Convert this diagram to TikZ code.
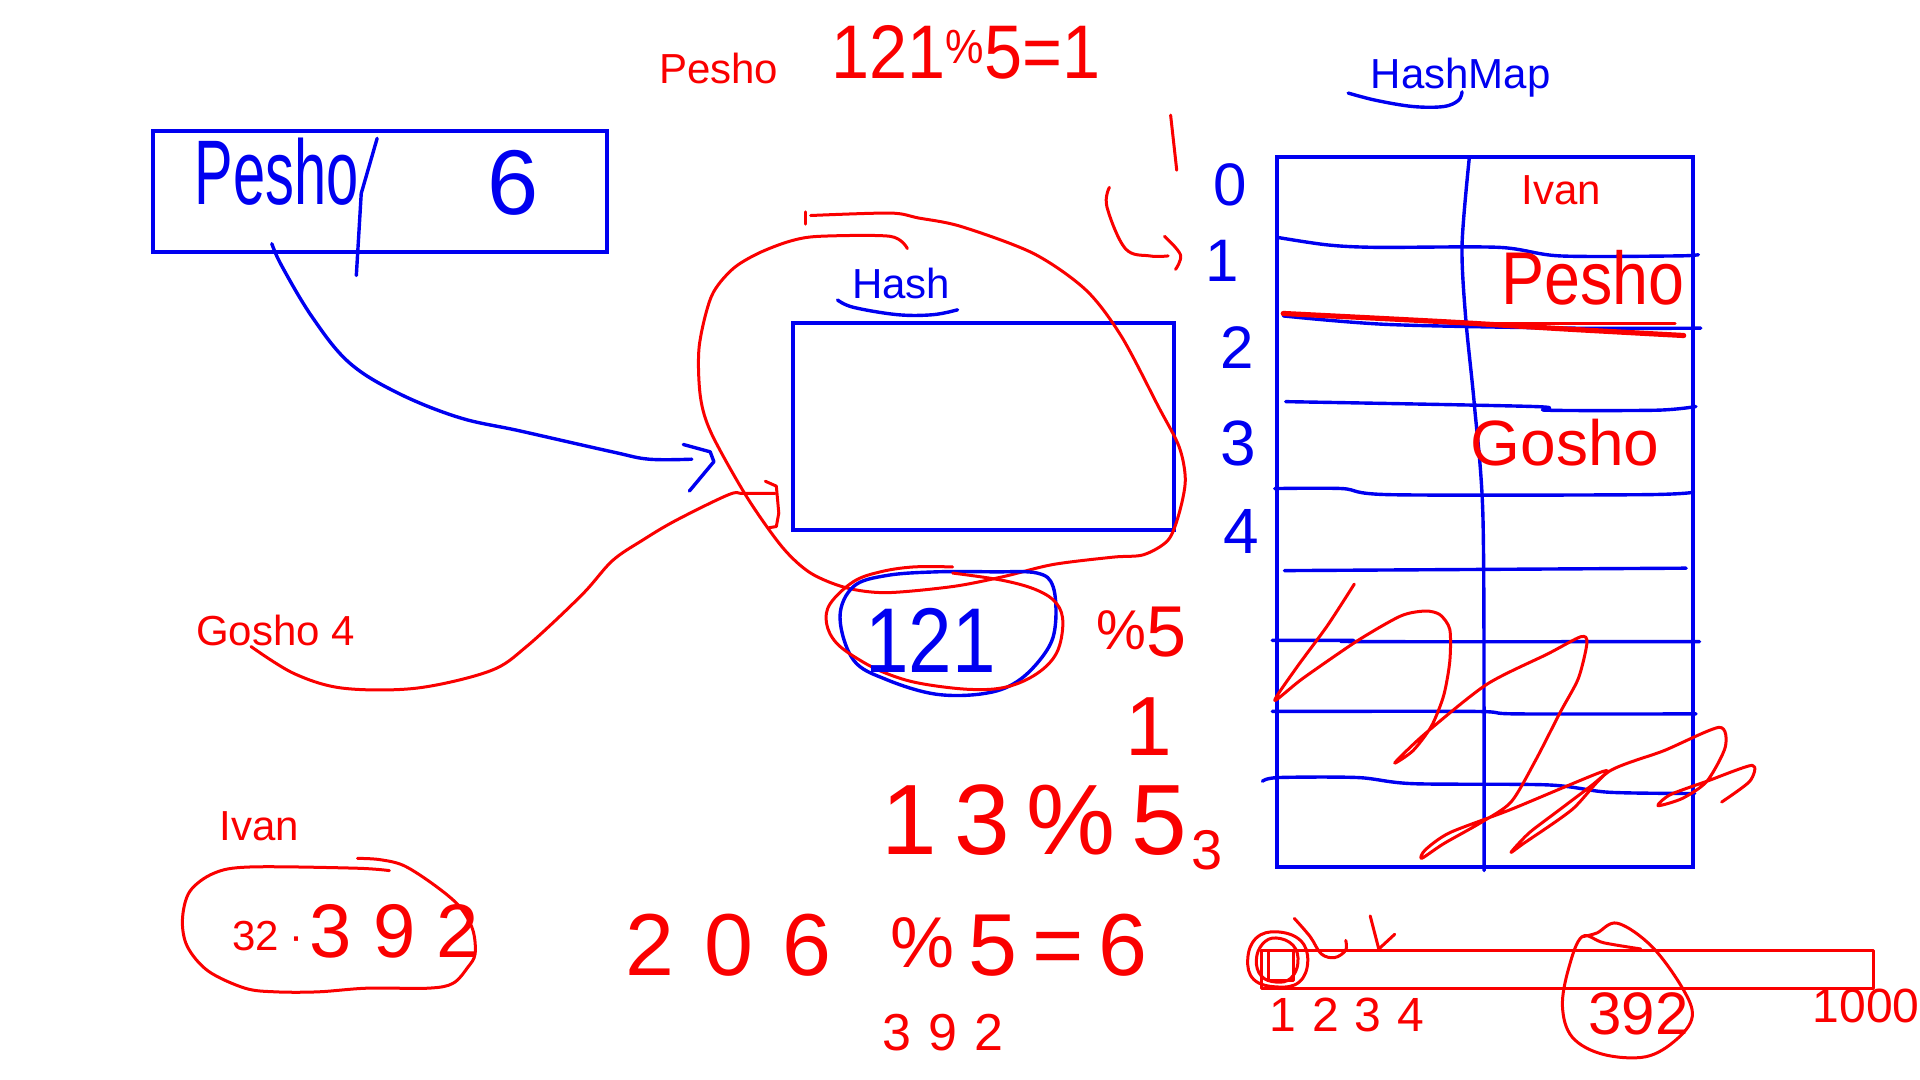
\documentclass[tikz,border=0pt]{standalone}
\usepackage{fontspec}
\setmainfont{Liberation Sans}
\IfFontExistsTF{FiraSans-Light.otf}{\newfontfamily\hwf{FiraSans-Light.otf}}{\newfontfamily\hwf{Liberation Sans}}
\definecolor{pr}{RGB}{250,0,0}
\definecolor{pb}{RGB}{0,0,240}
\newcommand\fs[1]{\fontsize{#1}{#1}\selectfont}
\begin{document}
\begin{tikzpicture}[x=0.61224pt,y=-0.61224pt,
  bl/.style={draw=pb,line width=1.7pt,line cap=round,line join=round},
  blr/.style={draw=pb,line width=2pt},
  rd/.style={draw=pr,line width=1.5pt,line cap=round,line join=round},
  tr/.style={text=pr,inner sep=0pt,anchor=base,font=\fs{21}},
  tb/.style={text=pb,inner sep=0pt,anchor=base,font=\fs{21}},
  hr/.style={text=pr,inner sep=0pt,anchor=base},
  hb/.style={text=pb,inner sep=0pt,anchor=base}]
\useasboundingbox (0,0) rectangle (1568,882);
\fill[white] (0,0) rectangle (1568,882);

% ---------- top-left record box ----------
\draw[blr] (125,107) rectangle (496,206);
\node[hb,font=\hwf\fs{34}] (hwpesho) at (226,167) {\scalebox{0.85}[1.35]{Pesho}};
\draw[bl] (308,113) -- (295,158) -- (291,225);
\node[hb,font=\hwf\fs{46}] (hwsix) at (419,175) {6};

% arrow to hash
\draw[bl] plot[smooth,tension=0.6] coordinates {(222,199) (230,217) (255,259) (285,296) (325,321) (375,341) (425,352) (500,369) (530,375) (565,375)};
\draw[bl] (558,363) -- (580,369) -- (583,377) -- (563,401);

% ---------- top texts ----------
\node[tr] (tpesho) at (587,68) {Pesho};
\node[hr,font=\hwf\fs{38}] (calc1) at (789,64) {\scalebox{0.9}[1]{121\raisebox{0.2em}{\fs{24}\%}5=1}};
\node[tb] (thashmap) at (1193,72) {HashMap};
\draw[bl] plot[smooth,tension=0.6] coordinates {(1101,76) (1124,82) (1154,87) (1179,87) (1191,82) (1194,75)};

% ---------- Hash box ----------
\node[tb] (thash) at (736,244) {Hash};
\draw[bl] plot[smooth,tension=0.6] coordinates {(684,245) (697,251) (733,257) (762,257) (782,253)};
\draw[blr] (648,264) rectangle (959,433);

% big red loop
\draw[rd] (658,173) -- (658,183);
\draw[rd] plot[smooth,tension=0.5] coordinates {(662,176) (727,174) (750,178) (785,185) (844,207) (887,237) (916,275) (946,332) (963,365) (968,392) (963,419) (954,441) (934,453) (909,455) (860,461) (819,471) (778,479) (724,484) (691,480) (662,468) (639,447) (610,406) (581,354) (572,324) (571,283) (581,242) (598,220) (619,207) (645,197) (669,193) (727,193) (741,203)};

% Gosho curve
\node[tr] (tgosho) at (225,527) {Gosho 4};
\draw[rd] plot[smooth,tension=0.55] coordinates {(205,528) (240,550) (280,562) (340,562) (400,548) (430,528) (475,486) (500,458) (525,441) (552,425) (595,404) (607,403) (633,403)};
\draw[rd] (625,393) -- (634,397) -- (636,419) -- (634,430) -- (628,431);

% 121 ellipses
\draw[bl] plot[smooth cycle,tension=0.6] coordinates {(686,504) (697,479) (724,470) (765,467) (811,467) (847,468) (860,479) (862,509) (855,531) (833,555) (806,566) (765,567) (724,555) (697,539)};
\draw[rd] plot[smooth,tension=0.6] coordinates {(778,463) (746,463) (719,467) (697,475) (678,493) (675,509) (683,525) (702,539) (724,550) (751,558) (792,563) (822,561) (847,550) (863,533) (868,509) (863,493) (847,482) (819,474) (778,468)};
\node[hb,font=\hwf\fs{46}] (n121) at (760,549) {\scalebox{0.85}[1]{121}};
\node[hr,font=\hwf\fs{36}] (mod5a) at (932,536) {\raisebox{0.1em}{\fs{28}\%}5};
\node[hr,font=\hwf\fs{42}] (res1) at (938,617) {1};
\node[hr,font=\hwf\fs{50}] (c13) at (845,698) {1\,3\,\%\,5};
\node[hr,font=\hwf\fs{28}] (res3) at (986,710) {3};

% ---------- HashMap table ----------
\draw[blr] (1043,128) rectangle (1383,708);
\draw[bl] plot[smooth,tension=0.5] coordinates {(1200,128) (1194,200) (1197,260) (1204,330) (1211,420) (1212,600) (1212,711)};
\draw[bl] plot[smooth,tension=0.5] coordinates {(1044,194) (1084,200) (1124,202) (1224,202) (1274,209) (1369,209) (1387,208)};
\draw[bl] plot[smooth,tension=0.5] coordinates {(1048,258) (1134,265) (1284,268) (1389,268)};
\draw[bl] plot[smooth,tension=0.5] coordinates {(1050,328) (1253,332) (1263,335) (1353,335) (1385,332)};
\draw[bl] plot[smooth,tension=0.5] coordinates {(1041,399) (1096,399) (1136,404) (1341,404) (1383,402)};
\draw[bl] (1049,466) -- (1377,464);
\draw[bl] plot[smooth,tension=0.5] coordinates {(1039,523) (1104,523) (1112,524) (1388,524)};
\draw[bl] plot[smooth,tension=0.5] coordinates {(1039,581) (1204,581) (1238,583) (1385,583)};
\draw[bl] plot[smooth,tension=0.5] coordinates {(1031,638) (1044,635) (1109,635) (1154,640) (1264,641) (1314,647) (1384,648)};
% red line over row boundary
\draw[rd,line width=2.6pt] plot[smooth,tension=0.5] coordinates {(1048,256) (1184,263) (1284,269) (1375,274)};
\draw[rd] (1184,264) -- (1368,264);

\node[hb,font=\hwf\fs{30}] (i0) at (1005,168) {0};
\node[hb,font=\hwf\fs{30}] (i1) at (998,230) {1};
\node[hb,font=\hwf\fs{30}] (i2) at (1010,301) {2};
\node[hb,font=\hwf\fs{32}] (i3) at (1011,380) {3};
\node[hb,font=\hwf\fs{32}] (i4) at (1014,452) {4};

\node[tr] (tivan) at (1275,167) {Ivan};
\node[hr,font=\hwf\fs{34}] (hpesho) at (1301,249) {\scalebox{0.95}[1.1]{Pesho}};
\node[hr,font=\hwf\fs{32}] (hgosho) at (1278,380) {Gosho};

% red arrow at 1
\draw[rd] (956,94) -- (961,139);
\draw[rd] plot[smooth,tension=0.6] coordinates {(906,153) (904,169) (919,203) (939,209) (954,209)};
\draw[rd] plot[smooth,tension=0.6] coordinates {(951,193) (964,208) (960,220)};

% scribbles
\draw[rd] plot[smooth,tension=0.45] coordinates {(1106,477) (1084,511) (1059,545) (1041,572) (1064,554) (1109,523) (1144,503) (1164,499) (1176,502) (1184,514) (1184,540) (1179,568) (1169,593) (1154,613) (1139,623) (1164,599) (1214,559) (1264,534) (1291,520) (1296,525) (1289,554) (1274,582) (1254,621) (1234,655) (1209,672) (1179,689) (1161,701) (1164,694) (1184,680) (1234,661) (1309,630) (1304,638) (1274,661) (1249,680) (1234,696) (1244,689) (1284,661) (1314,630) (1359,613) (1404,594) (1409,610) (1394,638) (1374,652) (1354,658) (1364,649) (1394,638) (1431,625) (1429,638) (1406,655)};

% ---------- bottom left ----------
\node[tr] (tivan2) at (212,686) {Ivan};
\draw[rd] plot[smooth,tension=0.55] coordinates {(318,711) (290,709) (205,708) (175,713) (155,728) (149,751) (153,773) (170,793) (200,807) (225,810) (260,810) (300,807) (350,807) (370,803) (382,790) (388,779) (386,759) (375,740) (355,723) (330,707) (310,702) (292,701)};
\node[tr] (t32) at (209,776) {32};
\node[hr,font=\fs{21}] (tdot) at (242,776) {·};
\node[hr,font=\hwf\fs{38}] (t392) at (322,782) {3 9 2};

\node[hr,font=\hwf\fs{44}] (c206) at (595,797) {2\,\,0\,\,6};
\node[hr,font=\hwf\fs{44}] (cmod) at (832,797) {\raisebox{0.1em}{\fs{36}\%}\,5\,=\,6};
\node[hr,font=\hwf\fs{26}] (s392) at (770,858) {3\,\,9\,\,2};

% ---------- bottom right bar ----------
\draw[rd] (1030,776) rectangle (1530,807);
\draw[rd] plot[smooth cycle,tension=0.7] coordinates {(1043,761) (1062,768) (1068,785) (1061,802) (1043,806) (1024,800) (1019,783) (1026,766)};
\draw[rd] plot[smooth cycle,tension=0.7] coordinates {(1042,766) (1056,772) (1060,786) (1054,799) (1042,802) (1030,797) (1026,784) (1031,771)};
\draw[rd] (1036,776) rectangle (1056,801);
\draw[rd] plot[smooth,tension=0.6] coordinates {(1057,750) (1070,765) (1079,779) (1090,782) (1099,776) (1099,768)};
\draw[rd] (1119,748) -- (1126,775) -- (1139,763);
\node[hr,font=\hwf\fs{24}] (n1234) at (1100,842) {1\,\,2\,\,3\,\,4};
\draw[rd] plot[smooth,tension=0.6] coordinates {(1292,765) (1304,762) (1321,754) (1349,773) (1374,807) (1382,830) (1369,849) (1344,863) (1309,861) (1284,847) (1276,822) (1281,791) (1292,765) (1310,770) (1340,775)};
\node[hr,font=\hwf\fs{30}] (n392) at (1338,845) {392};
\node[hr,font=\hwf\fs{24},anchor=base west] (n1000) at (1480,835) {1000};
\end{tikzpicture}
\end{document}
